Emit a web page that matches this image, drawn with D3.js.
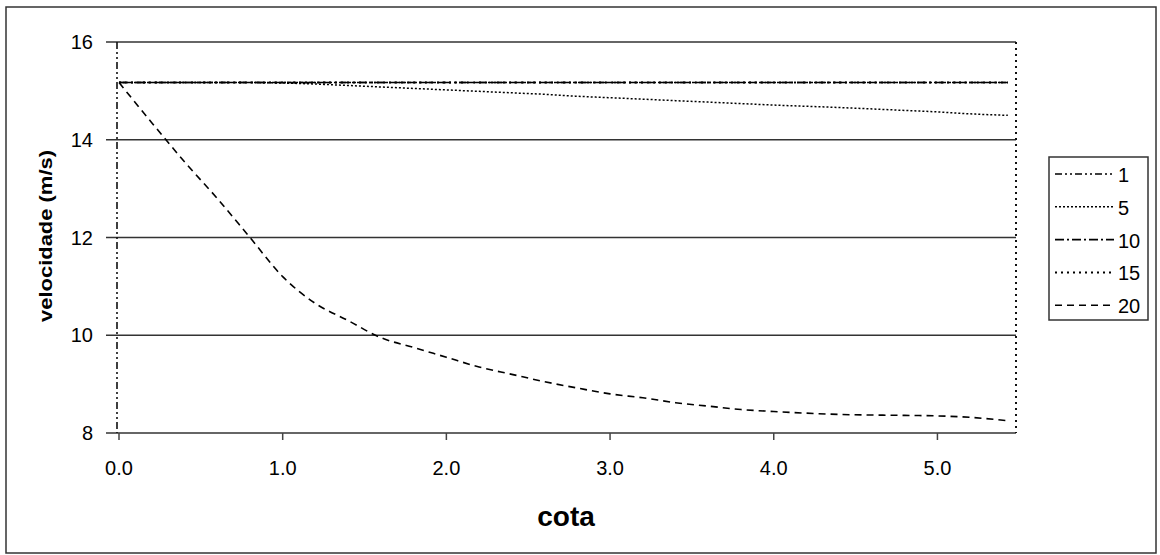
<!DOCTYPE html>
<html>
<head>
<meta charset="utf-8">
<script src="https://cdn.jsdelivr.net/npm/d3@7"></script>
<style>
  body { margin:0; background:#fff; }
  text { font-family: Arial, "Liberation Sans", sans-serif; fill:#000; }
</style>
</head>
<body>
<div id="chart"></div>
<script>
// data
var cota = [0,0.2,0.4,0.6,0.8,1.0,1.2,1.4,1.6,1.8,2.0,2.2,2.4,2.6,2.8,3.0,3.2,3.4,3.6,3.8,4.0,4.4,4.8,5.0,5.2,5.43];
var v1  = [15.17,15.17,15.17,15.17,15.17,15.17,15.17,15.17,15.17,15.17,15.17,15.17,15.17,15.17,15.17,15.17,15.17,15.17,15.17,15.17,15.17,15.17,15.17,15.17,15.17,15.17];
var v5  = [15.17,15.17,15.17,15.17,15.17,15.16,15.14,15.11,15.08,15.05,15.02,14.99,14.96,14.93,14.89,14.86,14.83,14.80,14.77,14.74,14.71,14.66,14.60,14.57,14.53,14.50];
var v10 = [15.17,15.17,15.17,15.17,15.17,15.17,15.17,15.17,15.17,15.17,15.17,15.17,15.17,15.17,15.17,15.17,15.17,15.17,15.17,15.17,15.17,15.17,15.17,15.17,15.17,15.17];
var v15 = [15.17,15.17,15.17,15.17,15.17,15.17,15.17,15.17,15.17,15.17,15.17,15.17,15.17,15.17,15.17,15.17,15.17,15.17,15.17,15.17,15.17,15.17,15.17,15.17,15.17,15.17];
var v20 = [15.17,14.35,13.55,12.80,12.00,11.20,10.65,10.30,9.95,9.75,9.55,9.35,9.20,9.05,8.92,8.80,8.72,8.62,8.55,8.48,8.44,8.38,8.36,8.35,8.32,8.25];
var nomes = ["1","5","10","15","20"];
var yTicks = [8,10,12,14,16];
var xTicks = [0,1,2,3,4,5];

var W = 1160, H = 555;
var svg = d3.select("#chart").append("svg").attr("width", W).attr("height", H);

// outer frame
svg.append("rect").attr("x",6).attr("y",7).attr("width",1150).attr("height",546)
  .style("fill","none").style("stroke","#333").style("stroke-width",1.5);

var x = d3.scaleLinear().domain([0,5.48]).range([119,1016]);
var y = d3.scaleLinear().domain([8,16]).range([433,42]);

var estilos = [
  {dash:"7,3,2,3,2,3", w:1.6},
  {dash:"2,2", w:1.5},
  {dash:"9,3,2,3", w:1.6},
  {dash:"2,4", w:2},
  {dash:"7,5", w:1.6}
];
var series = [v1,v5,v10,v15,v20];

// gridlines + left ticks
svg.selectAll(".grid").data(yTicks).enter().append("line")
  .attr("class","grid")
  .attr("x1",106).attr("x2",x(5.48))
  .attr("y1",function(d){ return y(d); }).attr("y2",function(d){ return y(d); })
  .style("stroke","#333").style("stroke-width",1.6);

svg.selectAll(".ylab").data(yTicks).enter().append("text")
  .attr("class","ylab")
  .attr("x",93).attr("y",function(d){ return y(d)+7; })
  .attr("text-anchor","end").style("font-size","20px")
  .text(function(d){ return d; });

// x tick marks + labels
svg.selectAll(".xt").data(xTicks).enter().append("line")
  .attr("class","xt")
  .attr("x1",function(d){ return x(d); }).attr("x2",function(d){ return x(d); })
  .attr("y1",433).attr("y2",440)
  .style("stroke","#444").style("stroke-width",1.5);

svg.selectAll(".xlab").data(xTicks).enter().append("text")
  .attr("class","xlab")
  .attr("x",function(d){ return x(d); }).attr("y",475)
  .attr("text-anchor","middle").style("font-size","20px")
  .text(function(d){ return d.toFixed(1); });

// left / right edges of plot area
svg.append("line").attr("x1",x(0)-2).attr("x2",x(0)-2).attr("y1",y(16)).attr("y2",y(8))
  .style("stroke","#111").style("stroke-width",1.6).style("stroke-dasharray","7,3,2,3,2,3");
svg.append("line").attr("x1",x(5.48)).attr("x2",x(5.48)).attr("y1",y(16)).attr("y2",y(8))
  .style("stroke","#111").style("stroke-width",2).style("stroke-dasharray","2,4");

// series
var linha = d3.line()
  .x(function(d,i){ return x(cota[i]); })
  .y(function(d){ return y(d); })
  .curve(d3.curveMonotoneX);

svg.selectAll(".serie").data(series).enter().append("path")
  .attr("class","serie")
  .attr("d",function(d){ return linha(d); })
  .style("fill","none").style("stroke","#000")
  .style("stroke-width",function(d,i){ return estilos[i].w; })
  .style("stroke-dasharray",function(d,i){ return estilos[i].dash; });

// axis titles
svg.append("text").attr("x",566).attr("y",526).attr("text-anchor","middle")
  .style("font-size","28px").style("font-weight","bold").text("cota");
svg.append("text").attr("transform","translate(52,236) rotate(-90)")
  .attr("text-anchor","middle").style("font-size","18px").style("font-weight","bold")
  .attr("textLength",172).attr("lengthAdjust","spacingAndGlyphs")
  .text("velocidade (m/s)");

// legend
var leg = svg.append("g");
leg.append("rect").attr("x",1049).attr("y",157).attr("width",99).attr("height",163)
  .style("fill","#fff").style("stroke","#333").style("stroke-width",1.5);
var item = leg.selectAll(".item").data(nomes).enter().append("g")
  .attr("class","item")
  .attr("transform",function(d,i){ return "translate(0," + (174 + i*32.8) + ")"; });
item.append("line").attr("x1",1055).attr("x2",1114).attr("y1",0).attr("y2",0)
  .style("stroke","#000")
  .style("stroke-width",function(d,i){ return estilos[i].w; })
  .style("stroke-dasharray",function(d,i){ return estilos[i].dash; });
item.append("text").attr("x",1118).attr("y",8).style("font-size","20px")
  .text(function(d){ return d; });
</script>
</body>
</html>
